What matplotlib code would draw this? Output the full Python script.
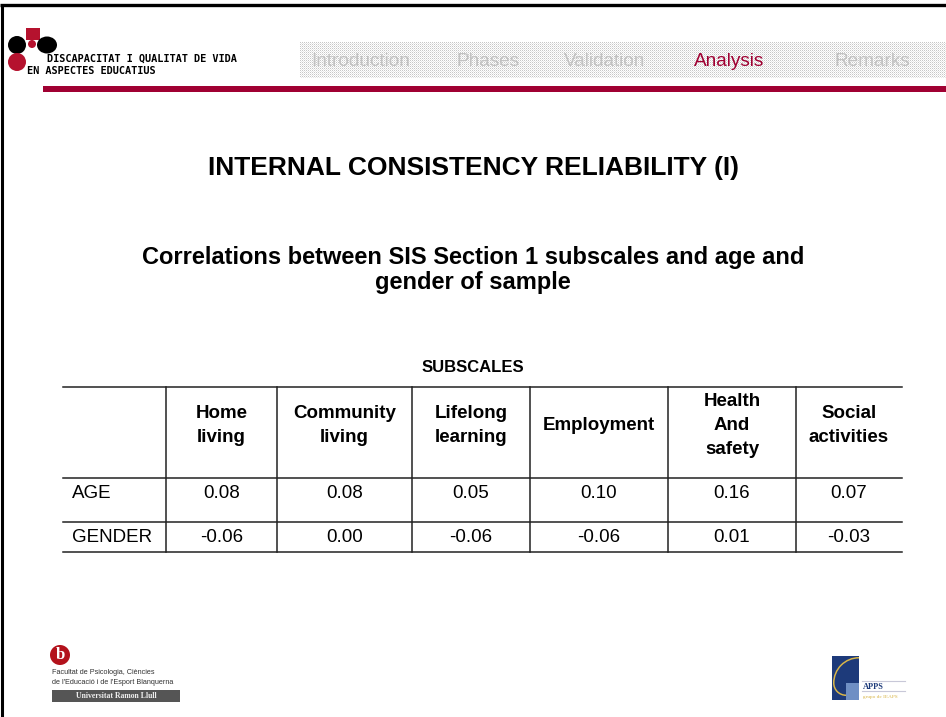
import numpy as np
import matplotlib
matplotlib.use("Agg")
import matplotlib.pyplot as plt
from matplotlib.patches import Rectangle, Circle, Wedge, Ellipse

# table content
subscales = ["Home\nliving", "Community\nliving", "Lifelong\nlearning",
             "Employment", "Health\nAnd\nsafety", "Social\nactivities"]
row_labels = ["AGE", "GENDER"]
age_r = [0.08, 0.08, 0.05, 0.10, 0.16, 0.07]
gender_r = [-0.06, 0.00, -0.06, -0.06, 0.01, -0.03]

nav_items = ["Introduction", "Phases", "Validation", "Analysis", "Remarks"]
active_item = "Analysis"

title = "INTERNAL CONSISTENCY RELIABILITY (I)"
subtitle = "Correlations between SIS Section 1 subscales and age and\ngender of sample"

W, H = 946, 717
fig = plt.figure(figsize=(W / 100, H / 100), dpi=100)
ax = fig.add_axes([0, 0, 1, 1])
ax.set_xlim(0, W)
ax.set_ylim(H, 0)
ax.axis("off")

FONT = "Liberation Sans"
RED = "#a00032"
LOGO_RED = "#b5122e"

# slide frame
ax.plot([0, W], [5, 5], color="black", lw=2.4, solid_capstyle="butt")
ax.plot([1.5, 1.5], [4, H], color="black", lw=2.2, solid_capstyle="butt")

# nav band with dotted texture
band = np.ones((36, 646))
band[::2, ::2] = 0.78
band[1::2, 1::2] = 0.9
ax.imshow(band, cmap="gray", vmin=0, vmax=1, extent=(300, 946, 78, 42),
          interpolation="nearest", zorder=1)
nav_x = [361, 488, 605, 729, 872]
for x, item in zip(nav_x, nav_items):
    ax.text(x, 62, item, ha="center", va="center", fontsize=13.7, family=FONT,
            color=RED if item == active_item else "#c2c2c2", zorder=2)

# red rule
ax.add_patch(Rectangle((43, 86), W - 43, 6, color=RED, lw=0))

# top-left logo
ax.add_patch(Rectangle((26, 28), 14, 12, color=LOGO_RED, lw=0))
ax.add_patch(Ellipse((17, 45), 18, 18, color="black", lw=0))
ax.add_patch(Ellipse((47, 45), 20, 17, color="black", lw=0))
ax.add_patch(Circle((32, 44), 4, color=LOGO_RED, lw=0))
ax.add_patch(Circle((17, 62), 9, color=LOGO_RED, lw=0))
ax.text(47, 59, "DISCAPACITAT I QUALITAT DE VIDA", fontsize=7.4,
        family="DejaVu Sans Mono", weight="bold", va="center", ha="left")
ax.text(27, 71, "EN ASPECTES EDUCATIUS", fontsize=7.4,
        family="DejaVu Sans Mono", weight="bold", va="center", ha="left")

# titles
ax.text(W / 2, 168, title, ha="center", va="center", fontsize=19,
        weight="bold", family=FONT)
ax.text(W / 2, 270, subtitle, ha="center", va="center", fontsize=17,
        weight="bold", family=FONT, linespacing=1.15)
ax.text(W / 2, 367, "SUBSCALES", ha="center", va="center", fontsize=12,
        weight="bold", family=FONT)

# table grid
col_edges = [63, 166, 277, 412, 530, 668, 796, 902]
row_edges = [387, 478, 522, 552]
lc = "#222222"
for y in row_edges:
    ax.plot([col_edges[0], col_edges[-1]], [y, y], color=lc, lw=1.1)
for x in col_edges[1:-1]:
    ax.plot([x, x], [row_edges[0], row_edges[-1]], color=lc, lw=1.1)

centers = [(a + b) / 2 for a, b in zip(col_edges[1:-1], col_edges[2:])]
for cx, name in zip(centers, subscales):
    ax.text(cx, 425.5, name, ha="center", va="center", fontsize=13.5,
            weight="bold", family=FONT, linespacing=1.55)

row_y = [494, 537]
for ry, label, vals in zip(row_y, row_labels, [age_r, gender_r]):
    ax.text(col_edges[0] + 9, ry, label, ha="left", va="center",
            fontsize=13.5, family=FONT)
    for cx, v in zip(centers, vals):
        ax.text(cx, ry, f"{v:.2f}", ha="center", va="center", fontsize=13.5,
                family=FONT)

# bottom-left logo
ax.add_patch(Circle((60, 655), 10, color="#b3121c", lw=0))
ax.text(60, 655, "b", ha="center", va="center", fontsize=12, weight="bold",
        family="Liberation Serif", color="white")
ax.text(52, 673, "Facultat de Psicologia, Ciències", fontsize=5.2,
        family=FONT, va="center", color="#333333")
ax.text(52, 682, "de l'Educació i de l'Esport Blanquerna", fontsize=5.2,
        family=FONT, va="center", color="#333333")
ax.add_patch(Rectangle((52, 690), 128, 12, color="#555555", lw=0))
ax.text(116, 696, "Universitat Ramon Llull", ha="center", va="center",
        fontsize=5.6, weight="bold", family="Liberation Serif", color="#eeeeee")

# bottom-right logo
ax.add_patch(Rectangle((832, 656), 27, 44, color="#1d3a7a", lw=0))
ax.add_patch(Rectangle((846, 683), 13, 17, color="#6f8fc4", lw=0))
ax.add_patch(Wedge((859, 683), 26, 180, 270, width=1.5, color="#d9b64a", lw=0))
ax.add_patch(Wedge((846, 683), 13, 90, 180, width=1.5, color="#d9b64a", lw=0))
ax.plot([862, 905], [681, 681], color="#c8c8d8", lw=0.8)
ax.plot([862, 905], [691, 691], color="#c8c8d8", lw=0.8)
ax.text(863, 687, "APPS", fontsize=6, weight="bold", family="Liberation Serif",
        color="#1d3a7a", va="center")
ax.text(863, 697, "grupo de IEAPS", fontsize=3.8, family="Liberation Serif",
        color="#d9b64a", va="center")

fig.savefig("out.png", dpi=100)
